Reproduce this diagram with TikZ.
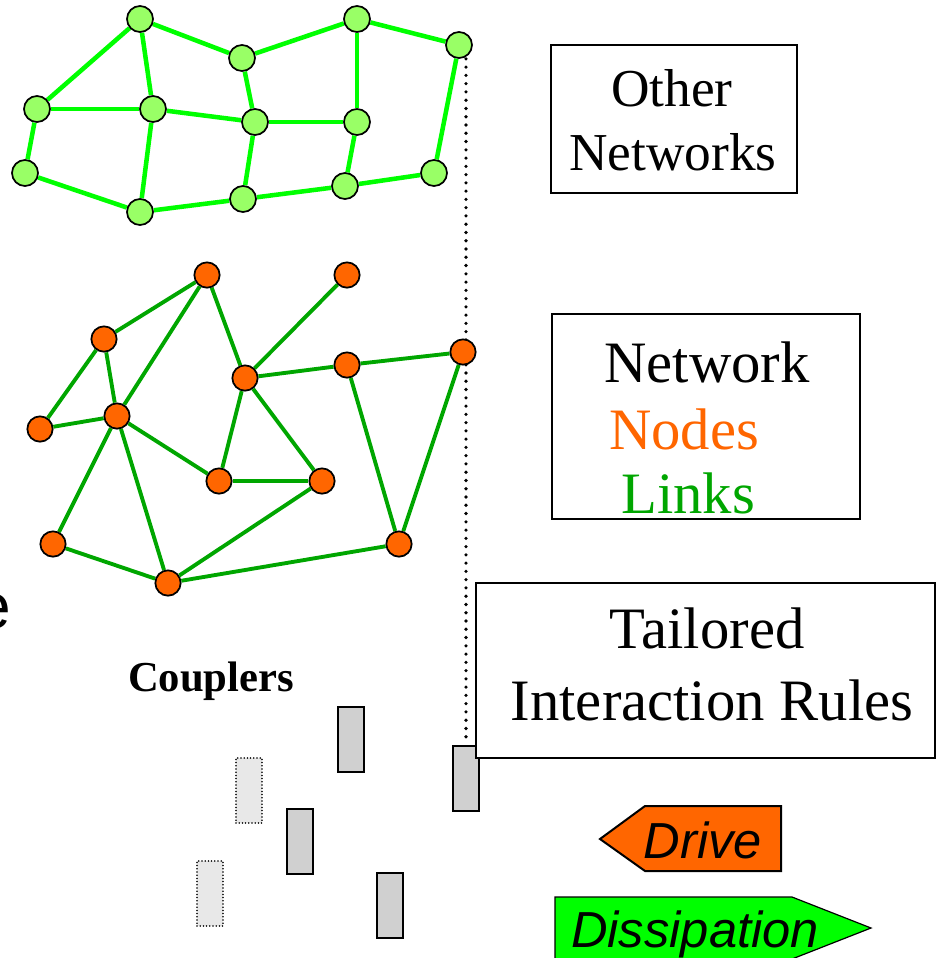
\documentclass[tikz,border=0pt]{standalone}
\usepackage{fontspec}
\setmainfont{Liberation Serif}
\newfontfamily\labelsans{Liberation Sans}
\usetikzlibrary{backgrounds}

\definecolor{linkbright}{HTML}{00FF00}
\definecolor{nodelight}{HTML}{99FF66}
\definecolor{nodeorange}{HTML}{FF6600}
\definecolor{linkdark}{HTML}{00A600}
\definecolor{couplergray}{HTML}{D0D0D0}
\definecolor{couplerghost}{HTML}{E8E8E8}

\begin{document}
\begin{tikzpicture}[x=0.75pt,y=-0.75pt,
  gnode/.style={circle,draw=black,line width=1.3pt,fill=nodelight,minimum size=19.5pt,inner sep=0pt},
  onode/.style={circle,draw=black,line width=1.3pt,fill=nodeorange,minimum size=19pt,inner sep=0pt},
  glink/.style={linkbright,line width=3.4pt},
  olink/.style={linkdark,line width=2.9pt},
  coupler/.style={rectangle,draw=black,line width=1.5pt,fill=couplergray,
    minimum width=19.5pt,minimum height=48.75pt,inner sep=0pt},
  ghostcoupler/.style={rectangle,draw=black,line width=1.3pt,dash pattern=on 0pt off 2.4pt,
    line cap=round,fill=couplerghost,minimum width=19.5pt,minimum height=48.75pt,inner sep=0pt},
  infobox/.style={rectangle,draw=black,fill=white,inner sep=0pt},
  boxtext/.style={anchor=base,inner sep=0pt,font=\fontsize{40}{48}\selectfont},
  bigtext/.style={anchor=base,inner sep=0pt,font=\fontsize{44}{52}\selectfont},
  arrowtext/.style={anchor=base,inner sep=0pt,font=\labelsans\itshape\fontsize{38}{44}\selectfont},
  dotline/.style={line width=2.7pt,dash pattern=on 0pt off 6.2pt,line cap=round}
]
\useasboundingbox (0,0) rectangle (940,958);

% ---- upper network: light green nodes ----
\node[gnode] (G1)  at (140,19)  {};
\node[gnode] (G2)  at (242,58)  {};
\node[gnode] (G3)  at (357,19)  {};
\node[gnode] (G4)  at (459,45)  {};
\node[gnode] (G5)  at (37,109)  {};
\node[gnode] (G6)  at (153,109) {};
\node[gnode] (G7)  at (255,122) {};
\node[gnode] (G8)  at (357,122) {};
\node[gnode] (G9)  at (25,173)  {};
\node[gnode] (G10) at (140,212) {};
\node[gnode] (G11) at (243,199) {};
\node[gnode] (G12) at (345,186) {};
\node[gnode] (G13) at (434,173) {};

% ---- lower network: orange nodes ----
\node[onode] (O1)  at (207,275) {};
\node[onode] (O2)  at (347,275) {};
\node[onode] (O3)  at (104,339) {};
\node[onode] (O4)  at (463,352) {};
\node[onode] (O5)  at (347,365) {};
\node[onode] (O6)  at (245,378) {};
\node[onode] (O7)  at (40,429)  {};
\node[onode] (O8)  at (117,416) {};
\node[onode] (O9)  at (219,481) {};
\node[onode] (O10) at (322,481) {};
\node[onode] (O11) at (53,544)  {};
\node[onode] (O12) at (399,544) {};
\node[onode] (O13) at (168,583) {};

% ---- couplers ----
\node[coupler]      (C1) at (351,739.5) {};
\node[ghostcoupler] (C2) at (249,790.5) {};
\node[coupler]      (C3) at (300,841.5) {};
\node[ghostcoupler] (C4) at (210,893.5) {};
\node[coupler]      (C5) at (390,905.5) {};
\node[coupler]      (C6) at (466,778)   {};

\node[anchor=base,inner sep=0pt,font=\bfseries\fontsize{32}{38}\selectfont] (couplers) at (211,691) {Couplers};

% ---- links, kept behind the nodes ----
\begin{pgfonlayer}{background}
  \foreach \a/\b in {G1/G5,G1/G6,G1/G2,G2/G3,G3/G4,G3/G8,G4/G13,G5/G6,G5/G9,G6/G7,
                     G6/G10,G2/G7,G7/G8,G7/G11,G8/G12,G9/G10,G10/G11,G11/G12,G12/G13}
    \draw[glink] (\a) -- (\b);
  \foreach \a/\b in {O1/O3,O1/O8,O1/O6,O2/O6,O3/O7,O3/O8,O7/O8,O8/O9,O8/O11,O8/O13,
                     O6/O5,O5/O4,O6/O9,O6/O10,O9/O10,O10/O13,O11/O13,O13/O12,O5/O12,O4/O12}
    \draw[olink] (\a) -- (\b);
  % dotted tie from the upper network down to a coupler
  \draw[dotline] (C6.north |- G4.south) -- (C6.north);
\end{pgfonlayer}

% ---- labelled boxes ----
\node[infobox,line width=1pt,minimum width=184.5pt,minimum height=111pt] (other) at (674,119) {};
\node[boxtext] (otherA) at (672,106) {Other};
\node[boxtext] (otherB) at (673,170) {Networks};

\node[infobox,line width=1.5pt,minimum width=231pt,minimum height=153.75pt] (netbox) at (706,416.5) {};
\node[bigtext] (netA) at (707,382) {Network};
\node[bigtext,text=nodeorange] (netB) at (684,449) {Nodes};
\node[bigtext,text=linkdark] (netC) at (688,513) {Links};

\node[infobox,line width=1.9pt,minimum width=344.25pt,minimum height=131.25pt] (rules) at (705.5,670.5) {};
\node[bigtext] (rulesA) at (707,648) {Tailored};
\node[bigtext] (rulesB) at (712,720) {Interaction Rules};

% ---- drive and dissipation arrows ----
\draw[fill=nodeorange,line width=1.5pt] (600,839) -- (645,806) -- (781,806) -- (781,871) -- (645,871) -- cycle;
\node[arrowtext] (drive) at (703,858) {Drive};
\draw[fill=linkbright,line width=0.9pt] (555,897) -- (792,897) -- (871,928) -- (792,959) -- (555,959) -- cycle;
\node[arrowtext] (dissip) at (695,947) {Dissipation};

% ---- trailing letter at the left edge ----
\node[anchor=base east,inner sep=0pt,font=\labelsans\fontsize{48}{56}\selectfont] (edgeletter) at (11,628) {e};
\end{tikzpicture}
\end{document}
